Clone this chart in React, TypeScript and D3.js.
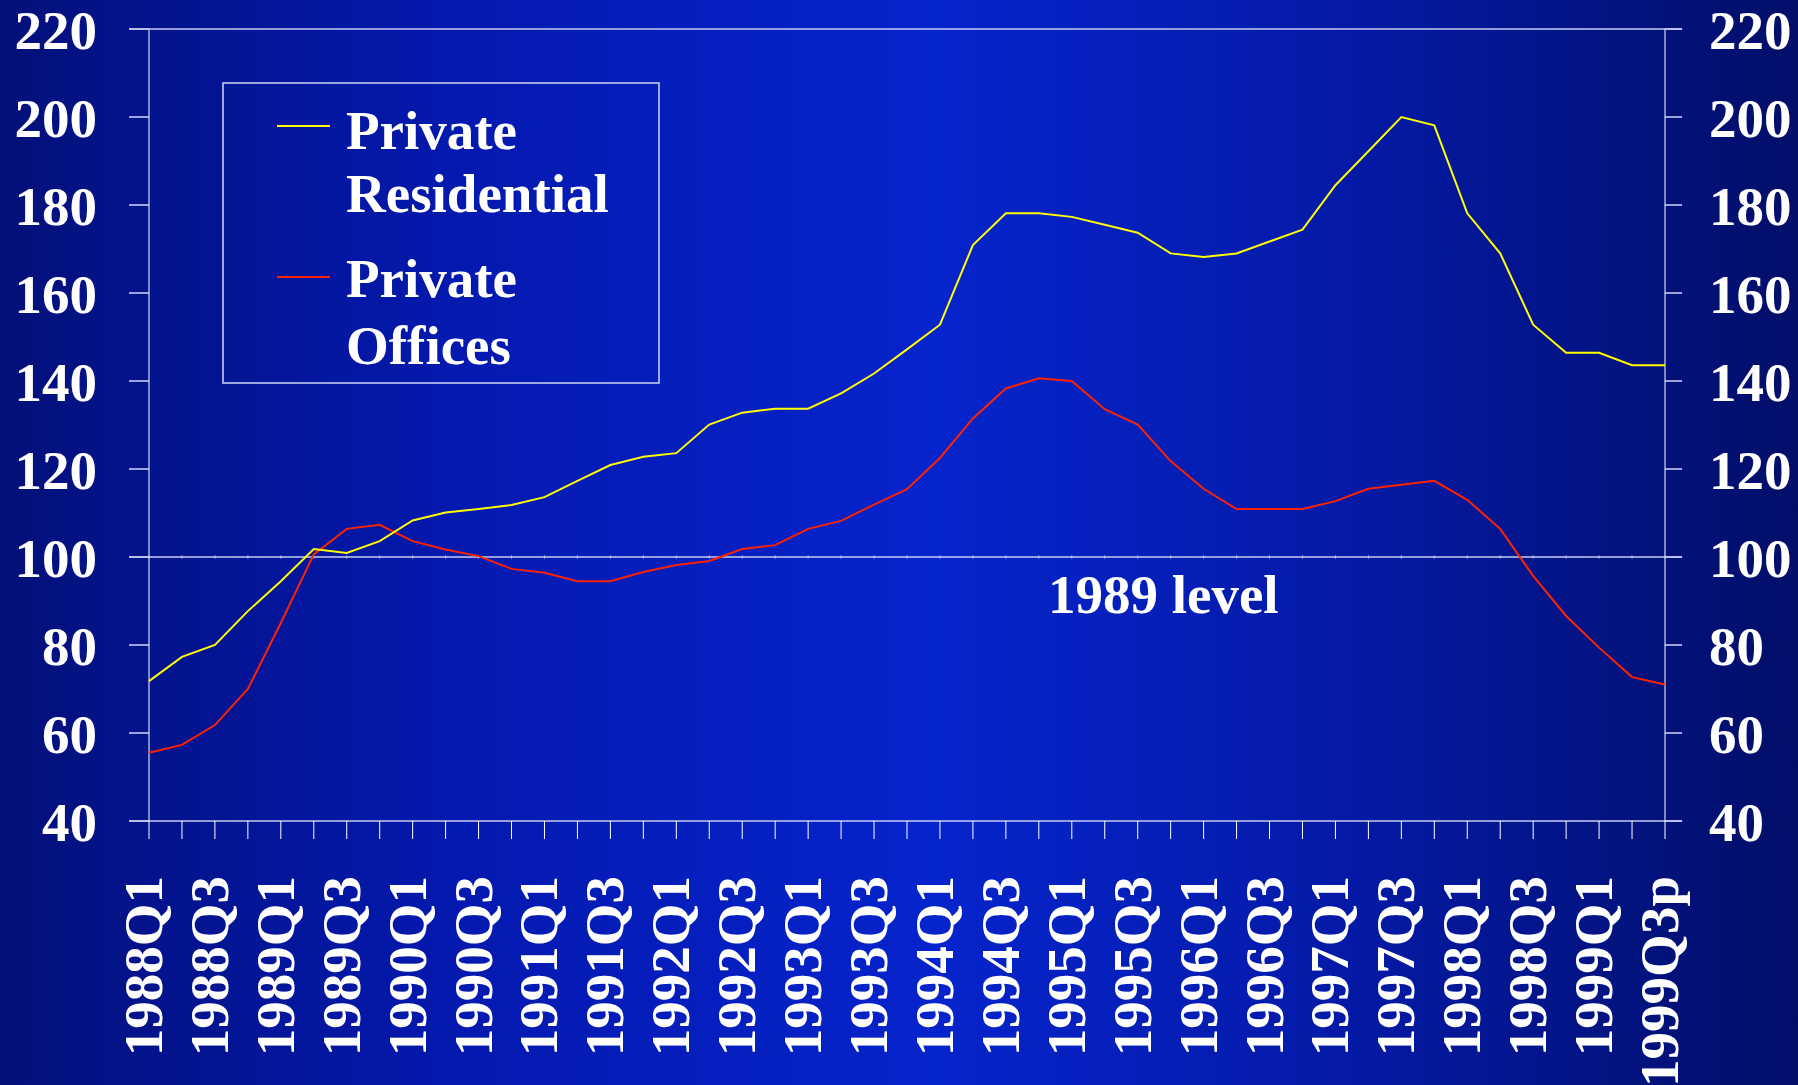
import React from "react";
import * as d3 from "d3";

const quarters = [
  "1988Q1", "1988Q2", "1988Q3", "1988Q4",
  "1989Q1", "1989Q2", "1989Q3", "1989Q4",
  "1990Q1", "1990Q2", "1990Q3", "1990Q4",
  "1991Q1", "1991Q2", "1991Q3", "1991Q4",
  "1992Q1", "1992Q2", "1992Q3", "1992Q4",
  "1993Q1", "1993Q2", "1993Q3", "1993Q4",
  "1994Q1", "1994Q2", "1994Q3", "1994Q4",
  "1995Q1", "1995Q2", "1995Q3", "1995Q4",
  "1996Q1", "1996Q2", "1996Q3", "1996Q4",
  "1997Q1", "1997Q2", "1997Q3", "1997Q4",
  "1998Q1", "1998Q2", "1998Q3", "1998Q4",
  "1999Q1", "1999Q2", "1999Q3p",
];

// labels shown on the x axis (every other quarter)
const xLabels = [
  "1988Q1", "1988Q3", "1989Q1", "1989Q3", "1990Q1", "1990Q3",
  "1991Q1", "1991Q3", "1992Q1", "1992Q3", "1993Q1", "1993Q3",
  "1994Q1", "1994Q3", "1995Q1", "1995Q3", "1996Q1", "1996Q3",
  "1997Q1", "1997Q3", "1998Q1", "1998Q3", "1999Q1", "1999Q3p",
];

const residential = [
  71.8, 77.3, 80, 87.7, 94.5, 101.8, 100.9, 103.6, 108.3, 110.1, 110.9, 111.8,
  113.6, 117.3, 120.9, 122.8, 123.6, 130.1, 132.8, 133.7, 133.7, 137.2, 141.7, 147.2,
  152.8, 170.9, 178.1, 178.1, 177.3, 175.5, 173.7, 169.0, 168.2, 169.0, 171.7, 174.4,
  184.5, 192.2, 200, 198.1, 178.1, 169.0, 152.8, 146.4, 146.4, 143.6, 143.6,
];

const offices = [
  55.5, 57.3, 61.8, 70.0, 85.0, 100.6, 106.4, 107.3, 103.6, 101.7, 100.2, 97.3,
  96.4, 94.5, 94.5, 96.6, 98.2, 99.1, 101.8, 102.7, 106.4, 108.2, 111.9, 115.4,
  122.5, 131.5, 138.3, 140.6, 140.0, 133.6, 130.1, 121.8, 115.5, 110.9, 110.9, 110.9,
  112.7, 115.5, 116.4, 117.3, 113.0, 106.4, 95.7, 86.6, 79.4, 72.7, 71.0,
];

const yTicks = [40, 60, 80, 100, 120, 140, 160, 180, 200, 220];

const W = 1798;
const H = 1085;
const left = 149;
const right = 1665;
const top = 29;
const bottom = 821;
const font = "'Liberation Serif', 'Times New Roman', serif";
const axisColor = "#c4cbf2";

export default function App() {
  const x = d3.scalePoint<string>().domain(quarters).range([left, right]);
  const y = d3.scaleLinear().domain([40, 220]).range([bottom, top]);

  const line = d3
    .line<number>()
    .x((_, i) => x(quarters[i]) as number)
    .y((d) => y(d));

  return (
    <svg
      width={W}
      height={H}
      style={{ position: "fixed", left: 0, top: 0, display: "block" }}
      fontFamily={font}
      fontWeight="bold"
    >
      <defs>
        <linearGradient id="bg" x1="0" x2="1" y1="0" y2="0">
          <stop offset="0" stopColor="#03107a" />
          <stop offset="0.25" stopColor="#0419ae" />
          <stop offset="0.52" stopColor="#0624cc" />
          <stop offset="0.75" stopColor="#041aa6" />
          <stop offset="1" stopColor="#020e68" />
        </linearGradient>
      </defs>
      <rect x={0} y={0} width={W} height={H} fill="url(#bg)" />

      {/* horizontal lines: top, 1989 level, bottom */}
      {[220, 100, 40].map((v) => (
        <line key={v} x1={left - 20} x2={right + 17} y1={y(v)} y2={y(v)}
          stroke={axisColor} strokeWidth={1.6} />
      ))}

      {/* vertical axes */}
      <line x1={left} x2={left} y1={top} y2={bottom} stroke="#ffffff" strokeWidth={1} />
      <line x1={right} x2={right} y1={top} y2={bottom} stroke="#ffffff" strokeWidth={1} />

      {/* y ticks and labels */}
      {yTicks.map((v) => (
        <g key={v}>
          <line x1={left - 20} x2={left} y1={y(v)} y2={y(v)} stroke={axisColor} strokeWidth={1.6} />
          <line x1={right} x2={right + 17} y1={y(v)} y2={y(v)} stroke={axisColor} strokeWidth={1.6} />
          <text x={97} y={y(v) + 20} textAnchor="end" fontSize={55} fill="#fff">{v}</text>
          <text x={1709} y={y(v) + 20} textAnchor="start" fontSize={55} fill="#fff">{v}</text>
        </g>
      ))}

      {/* x ticks */}
      {quarters.map((q) => (
        <g key={q}>
          <line x1={x(q)} x2={x(q)} y1={bottom} y2={bottom + 18} stroke="#ffffff" strokeWidth={1} />
          <line x1={x(q)} x2={x(q)} y1={y(100) - 1.5} y2={y(100) + 1.5} stroke={axisColor} strokeWidth={1} />
        </g>
      ))}

      {/* x labels */}
      {xLabels.map((q) => (
        <text
          key={q}
          transform={`translate(${(x(q) as number) + 13},876) rotate(-90)`}
          textAnchor="end"
          fontSize={55}
          fill="#fff"
        >
          {q}
        </text>
      ))}

      {/* series */}
      <path d={line(offices) ?? ""} fill="none" stroke="#ff2200" strokeWidth={2} />
      <path d={line(residential) ?? ""} fill="none" stroke="#ffff00" strokeWidth={2} />

      <text x={1048} y={613} fontSize={55} fill="#fff">1989 level</text>

      {/* legend */}
      <rect x={223} y={83} width={436} height={300} fill="none" stroke={axisColor} strokeWidth={1.6} />
      <line x1={277} x2={330} y1={126} y2={126} stroke="#ffff00" strokeWidth={2} />
      <line x1={277} x2={330} y1={277} y2={277} stroke="#ff2200" strokeWidth={2} />
      <text x={346} fontSize={55} fill="#fff">
        <tspan x={346} y={149}>Private</tspan>
        <tspan x={346} y={212}>Residential</tspan>
      </text>
      <text x={346} fontSize={55} fill="#fff">
        <tspan x={346} y={297}>Private</tspan>
        <tspan x={346} y={364}>Offices</tspan>
      </text>
    </svg>
  );
}
